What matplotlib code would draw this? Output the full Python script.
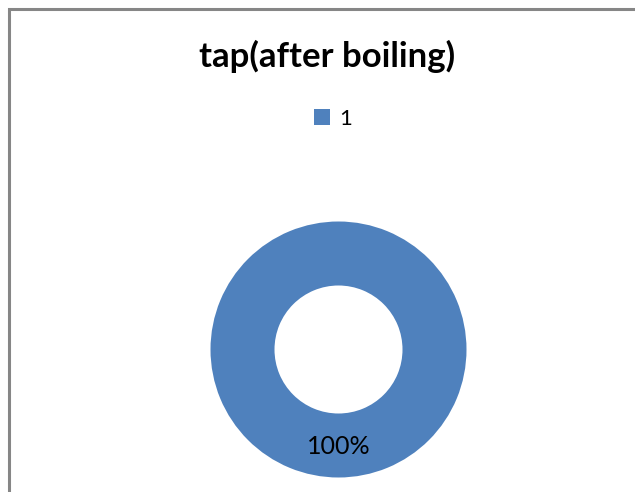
import matplotlib

matplotlib.use('Agg')
import matplotlib.pyplot as plt
from matplotlib.patches import Rectangle

plt.rcParams['font.family'] = ['Lato', 'DejaVu Sans']

categories = ['1']
values = [100]
labels_pct = ['100%']
title = 'tap(after boiling)'

BLUE = '#4F81BD'
BORDER = '#868686'

W, H = 635, 492
fig = plt.figure(figsize=(W / 100, H / 100), dpi=100)

# outer chart-area border (cropped on right and bottom in the original)
fig.patches.append(Rectangle((9 / W, -0.1), 1.2, 1 - 9 / H + 0.1,
                             transform=fig.transFigure, fill=False,
                             edgecolor=BORDER, linewidth=2.2))

cx, cy, r = 338.5, 349.5, 128
ax = fig.add_axes([(cx - r) / W, (H - cy - r) / H, 2 * r / W, 2 * r / H])
wedges, _ = ax.pie(values, colors=[BLUE], startangle=90, counterclock=False,
                   radius=1, wedgeprops=dict(width=0.5, edgecolor='none'))
for w, lab in zip(wedges, labels_pct):
    ax.text(0, -0.76, lab, ha='center', va='center', fontsize=18, color='black')
ax.set_xlim(-1, 1)
ax.set_ylim(-1, 1)
ax.set_aspect('equal')
ax.axis('off')

fig.text(327 / W, 1 - 56 / H, title, ha='center', va='center',
         fontsize=25, fontweight='bold')

fig.legend(wedges, categories, loc='center', bbox_to_anchor=(333 / W, 1 - 119 / H),
           frameon=False, fontsize=16, handlelength=0.75, handleheight=0.75,
           handletextpad=0.4, borderpad=0)

fig.savefig('out.png', dpi=100)
